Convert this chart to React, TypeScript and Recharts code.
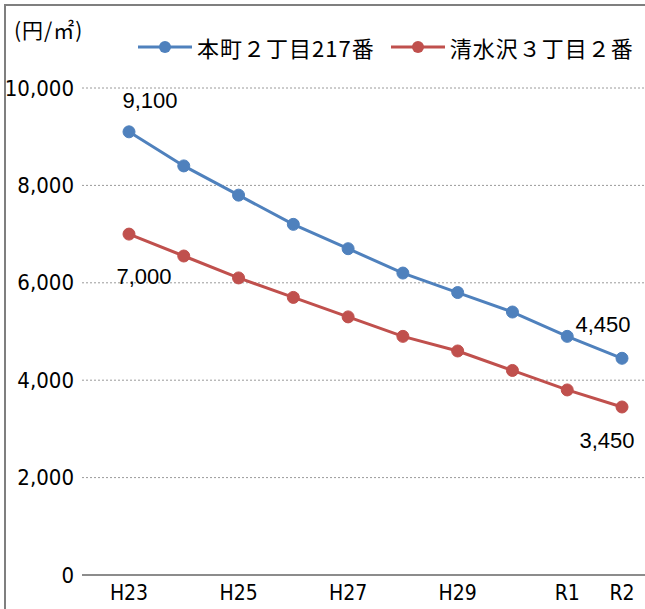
import React from 'react';
import { LineChart, Line, XAxis, YAxis, CartesianGrid, LabelList } from 'recharts';

const categories = ['H23', 'H24', 'H25', 'H26', 'H27', 'H28', 'H29', 'H30', 'R1', 'R2'];
const shownTicks = ['H23', 'H25', 'H27', 'H29', 'R1', 'R2'];
const honchoValues = [9100, 8400, 7800, 7200, 6700, 6200, 5800, 5400, 4900, 4450];
const shimizuValues = [7000, 6550, 6100, 5700, 5300, 4900, 4600, 4200, 3800, 3450];
const yTicks = [0, 2000, 4000, 6000, 8000, 10000];
const seriesNames = ['本町２丁目217番', '清水沢３丁目２番'];
const unitLabel = '(円/㎡)';
const honchoLabeled = [0, 9];
const shimizuLabeled = [0, 9];

const BLUE = '#4F81BD';
const RED = '#C0504D';

const data = categories.map((c, i) => ({ cat: c, a: honchoValues[i], b: shimizuValues[i] }));

const fmt = (v: number) => v.toLocaleString('en-US');

const makeLabel = (labeled: number[], offsets: Record<number, [number, number]>) => (props: any) => {
  const { x, y, value, index } = props;
  if (!labeled.includes(index)) return null;
  const [dx, dy] = offsets[index] || [0, 0];
  return (
    <text x={x + dx} y={y + dy} textAnchor="middle" dominantBaseline="central"
      fontFamily="'Liberation Sans', Arial, sans-serif" fontSize={22} fill="#000">
      {fmt(value)}
    </text>
  );
};

const LegendBox = () => {
  const items = [
    { name: seriesNames[0], color: BLUE },
    { name: seriesNames[1], color: RED },
  ];
  return (
    <div style={{ position: 'absolute', left: 138, top: 34, display: 'flex', alignItems: 'center', whiteSpace: 'nowrap' }}>
      {items.map((it, i) => (
        <div key={i} style={{ display: 'flex', alignItems: 'center', marginRight: i === 0 ? 16 : 0 }}>
          <svg width={54} height={14} style={{ marginRight: 5 }}>
            <line x1={0} y1={7} x2={54} y2={7} stroke={it.color} strokeWidth={3} />
            <circle cx={27} cy={7} r={6} fill={it.color} />
          </svg>
          <span style={{ fontFamily: "'Noto Sans CJK JP', sans-serif", fontSize: 22, letterSpacing: 1, color: '#000', lineHeight: '26px' }}>
            {it.name}
          </span>
        </div>
      ))}
    </div>
  );
};

const XTick = (props: any) => {
  const { x, y, payload } = props;
  if (!shownTicks.includes(payload.value)) return null;
  return (
    <text x={x} y={y + 10} textAnchor="middle" dominantBaseline="central"
      fontFamily="'DejaVu Sans Condensed', 'DejaVu Sans', sans-serif" fontSize={21} fill="#000"
      style={{ fontStretch: 'condensed' }}>
      {payload.value}
    </text>
  );
};

const YTick = (props: any) => {
  const { x, y, payload } = props;
  return (
    <text x={x} y={y} textAnchor="end" dominantBaseline="central"
      fontFamily="'DejaVu Sans Condensed', 'DejaVu Sans', sans-serif" fontSize={22} fill="#000"
      style={{ fontStretch: 'condensed' }}>
      {fmt(payload.value)}
    </text>
  );
};

export default function App() {
  return (
    <div style={{ position: 'absolute', left: 0, top: 0, width: 645, height: 609, overflow: 'hidden', background: '#fff' }}>
      <div style={{ position: 'absolute', left: 4, top: 4, width: 700, height: 700, border: '2px solid #7f7f7f' }} />
      <div style={{ position: 'absolute', left: 14, top: 14, fontFamily: "'Noto Sans CJK JP', sans-serif", fontSize: 21, letterSpacing: 1, color: '#000', lineHeight: '30px' }}>
        {unitLabel}
      </div>
      <LegendBox />
      <div style={{ position: 'absolute', left: 0, top: 0 }}>
        <LineChart width={645} height={609} data={data} margin={{ top: 88, right: 0, bottom: 4, left: 0 }}>
          <CartesianGrid vertical={false} stroke="#9a9a9a" strokeDasharray="2 2" />
          <XAxis dataKey="cat" interval={0} tick={<XTick />} tickLine={false} axisLine={{ stroke: '#8c8c8c', strokeWidth: 2 }}
            padding={{ left: 47, right: 23 }} height={30} />
          <YAxis domain={[0, 10000]} ticks={yTicks} tick={<YTick />} tickLine={false} axisLine={false} width={82} tickMargin={2} />
          <Line type="linear" dataKey="a" name={seriesNames[0]} stroke={BLUE} strokeWidth={3}
            dot={{ r: 6, fill: BLUE, stroke: BLUE, strokeWidth: 1 }} isAnimationActive={false}>
            <LabelList dataKey="a" content={makeLabel(honchoLabeled, { 0: [21, -31], 9: [-19, -34] })} />
          </Line>
          <Line type="linear" dataKey="b" name={seriesNames[1]} stroke={RED} strokeWidth={3}
            dot={{ r: 6, fill: RED, stroke: RED, strokeWidth: 1 }} isAnimationActive={false}>
            <LabelList dataKey="b" content={makeLabel(shimizuLabeled, { 0: [15, 42], 9: [-15, 34] })} />
          </Line>
        </LineChart>
      </div>
    </div>
  );
}
